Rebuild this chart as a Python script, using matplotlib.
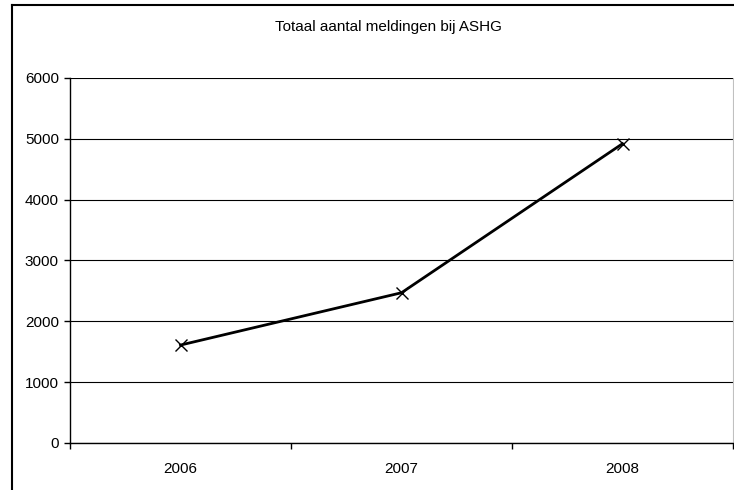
import matplotlib.pyplot as plt
from matplotlib.lines import Line2D

years = ["2006", "2007", "2008"]
meldingen = [1610, 2470, 4920]
y_ticks = [0, 1000, 2000, 3000, 4000, 5000, 6000]

plt.rcParams["font.family"] = ["Liberation Sans", "DejaVu Sans"]

fig = plt.figure(figsize=(7.34, 4.9), dpi=100)
ax = fig.add_axes([70 / 734, 1 - 443 / 490, 663 / 734, 365 / 490])

x = range(len(years))
ax.plot(x, meldingen, color="black", lw=2.0, marker="x", ms=9, mew=1.0)

ax.set_xlim(-0.5, len(years) - 0.5)
ax.set_ylim(0, 6000)
ax.set_yticks(y_ticks)
ax.set_yticklabels([str(v) for v in y_ticks], fontsize=11)
ax.set_xticks(list(x))
ax.set_xticklabels(years, fontsize=11)
ax.tick_params(axis="x", length=0, pad=14)
ax.set_xticks([-0.5, 0.5, 1.5, 2.5], minor=True)
ax.tick_params(axis="x", which="minor", length=4, width=1, direction="out")
ax.tick_params(axis="y", length=4, width=1, direction="out", pad=4)

ax.grid(axis="y", color="black", lw=0.8)
ax.set_axisbelow(True)
for side in ("left", "bottom"):
    ax.spines[side].set_linewidth(1.0)
ax.spines["top"].set_visible(False)
ax.spines["right"].set_color("#c0c0c0")

fig.text(388 / 734, 1 - 27 / 490, "Totaal aantal meldingen bij ASHG",
         ha="center", va="center", fontsize=11)

# chart frame: left and top edges
fx = 11.5 / 734
fy = 1 - 5 / 490
fig.add_artist(Line2D([fx, fx], [0, fy], transform=fig.transFigure,
                      color="black", lw=1.5))
fig.add_artist(Line2D([fx, 1], [fy, fy], transform=fig.transFigure,
                      color="black", lw=1.5))

fig.savefig("out.png", dpi=100)
